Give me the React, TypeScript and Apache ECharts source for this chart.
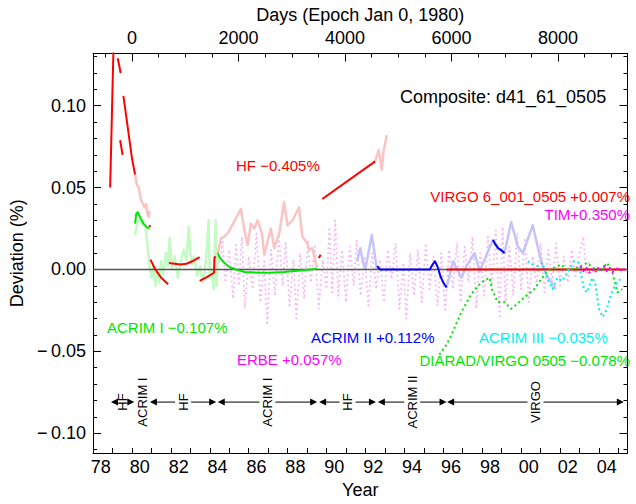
import React, { useEffect, useRef } from 'react';
import * as echarts from 'echarts';

const FONT = '"Liberation Sans", Arial, Helvetica, sans-serif';
const X_MIN = 1978.0;
const X_MAX = 2005.47;
const EPOCH_YEAR = 1980.0;
const DAYS_PER_YEAR = 365.25;
const Y_MIN = -0.1121;
const Y_MAX = 0.1319;

// tick positions / labels
const yearTicks = [1979, 1980, 1981, 1982, 1983, 1984, 1985, 1986, 1987, 1988, 1989, 1990, 1991, 1992, 1993, 1994, 1995, 1996, 1997, 1998, 1999, 2000, 2001, 2002, 2003, 2004, 2005];
const yearLabels = [1978, 1980, 1982, 1984, 1986, 1988, 1990, 1992, 1994, 1996, 1998, 2000, 2002, 2004];
const dayMajor = [0, 2000, 4000, 6000, 8000];
const dayMinor = [-500, 500, 1000, 1500, 2500, 3000, 3500, 4500, 5000, 5500, 6500, 7000, 7500, 8500, 9000];
const devMajor = [-0.1, -0.05, 0, 0.05, 0.1];
const devMinor = [-0.11, -0.09, -0.08, -0.07, -0.06, -0.04, -0.03, -0.02, -0.01, 0.01, 0.02, 0.03, 0.04, 0.06, 0.07, 0.08, 0.09, 0.11, 0.12, 0.13];

// zero reference
const zeroLine = [[1978.0, 0], [2005.47, 0]];

// HF (red, composite pieces)
const hfRedA = [[1978.88, 0.05], [1978.96, 0.09], [1979.05, 0.135]];
const hfRedB = [[1979.27, 0.129], [1979.42, 0.12]];
const hfRedC = [[1979.39, 0.079], [1979.52, 0.07]];
const hfRedD = [[1979.56, 0.106], [1979.7, 0.094], [1979.85, 0.081], [1980.0, 0.068], [1980.16, 0.058]];
const hfRedE = [[1980.89, 0.027], [1980.95, 0.026]];
const hfRedF = [[1980.95, 0.006], [1981.2, 0.0], [1981.5, -0.005], [1981.86, -0.009]];
const hfRedG = [[1981.9, 0.004], [1982.2, 0.0035], [1982.5, 0.003], [1982.8, 0.0035], [1983.1, 0.005], [1983.48, 0.0075]];
const hfRedH = [[1983.48, -0.007], [1983.8, -0.005], [1984.22, -0.002], [1984.24, 0.007], [1984.3, 0.008]];
const hfRedI = [[1989.6, 0.007], [1989.7, 0.009]];
const hfRedJ = [[1989.78, 0.043], [1992.5, 0.066]];

// HF raw (light red)
const hfRawA = [[1980.16, 0.058], [1980.25, 0.052], [1980.35, 0.05], [1980.45, 0.043], [1980.55, 0.04], [1980.65, 0.038], [1980.72, 0.04], [1980.8, 0.034], [1980.87, 0.032], [1980.9, 0.036]];
const hfRawB = [[1984.41, 0.01], [1984.58, 0.019], [1984.75, 0.02], [1984.92, 0.022], [1985.2, 0.028], [1985.6, 0.037], [1985.78, 0.024], [1985.95, 0.015], [1986.11, 0.028], [1986.29, 0.025], [1986.46, 0.03], [1986.68, 0.022], [1986.8, 0.009], [1986.97, 0.017], [1987.14, 0.025], [1987.31, 0.013], [1987.57, 0.022], [1987.82, 0.041], [1987.99, 0.027], [1988.25, 0.03], [1988.59, 0.038], [1988.76, 0.02], [1989.01, 0.016], [1989.1, 0.012], [1989.27, 0.013], [1989.44, 0.004], [1989.52, 0.001]];
const hfRawC = [[1992.5, 0.066], [1992.68, 0.073], [1992.84, 0.061], [1992.93, 0.072], [1993.1, 0.082]];

// ACRIM I raw (light green)
const acrim1Raw = [[1980.16, 0.021], [1980.3, 0.03], [1980.5, 0.028], [1980.7, 0.026], [1980.9, 0.002], [1981.0, -0.005], [1981.1, 0.002], [1981.2, -0.01], [1981.3, 0.0], [1981.4, -0.008], [1981.5, 0.005], [1981.6, -0.003], [1981.75, 0.01], [1981.85, 0.002], [1981.94, 0.019], [1982.05, 0.0], [1982.2, 0.008], [1982.35, -0.005], [1982.5, 0.004], [1982.65, 0.012], [1982.8, 0.006], [1982.92, 0.026], [1983.0, 0.01], [1983.1, 0.003], [1983.2, 0.008], [1983.35, -0.004], [1983.5, 0.002], [1983.65, -0.008], [1983.8, 0.005], [1983.94, 0.03], [1984.0, -0.005], [1984.1, 0.0], [1984.2, -0.012], [1984.3, 0.03], [1984.35, -0.01], [1984.41, 0.008]];

// ACRIM I (green)
const acrim1A = [[1980.16, 0.028], [1980.22, 0.034], [1980.3, 0.035], [1980.45, 0.031], [1980.6, 0.028], [1980.75, 0.026], [1980.9, 0.025]];
const acrim1B = [[1984.41, 0.01], [1984.5, 0.0075], [1984.7, 0.0045], [1985.0, 0.0015], [1985.35, 0.0], [1985.8, -0.0015], [1986.5, -0.002], [1987.05, -0.002], [1987.8, -0.0015], [1988.5, -0.0008], [1989.0, -0.0002], [1989.52, 0.0004]];

// ERBE (light magenta, dotted)
const erbe = [[1984.5, 0.004], [1984.65, 0.018], [1984.8, -0.008], [1985.0, 0.012], [1985.2, -0.018], [1985.35, 0.015], [1985.5, -0.01], [1985.65, 0.02], [1985.8, -0.024], [1986.0, 0.008], [1986.2, -0.012], [1986.4, 0.022], [1986.6, -0.02], [1986.8, 0.005], [1986.95, -0.034], [1987.15, 0.012], [1987.35, -0.016], [1987.55, 0.02], [1987.75, -0.01], [1987.9, 0.016], [1988.1, -0.022], [1988.3, 0.006], [1988.45, -0.03], [1988.65, 0.01], [1988.85, -0.018], [1989.05, 0.018], [1989.2, -0.008], [1989.4, 0.014], [1989.6, -0.024], [1989.8, 0.006], [1990.0, -0.012], [1990.15, 0.026], [1990.3, -0.014], [1990.45, 0.03], [1990.6, -0.016], [1990.8, 0.012], [1991.0, -0.02], [1991.2, 0.014], [1991.4, -0.01], [1991.55, 0.018], [1991.75, -0.016], [1991.95, 0.008], [1992.15, -0.022], [1992.35, 0.01], [1992.55, -0.012], [1992.75, 0.006], [1992.95, -0.02], [1993.15, 0.012], [1993.35, -0.006], [1993.55, 0.016], [1993.75, -0.024], [1993.95, 0.004], [1994.1, -0.03], [1994.3, 0.01], [1994.5, -0.016], [1994.7, 0.012], [1994.9, -0.02], [1995.1, 0.016], [1995.3, -0.012], [1995.5, 0.008], [1995.7, -0.022], [1995.9, 0.01], [1996.1, -0.026], [1996.3, 0.012], [1996.5, -0.012], [1996.7, 0.016], [1996.9, -0.02], [1997.1, 0.014], [1997.3, -0.008], [1997.5, 0.02], [1997.7, -0.024], [1997.9, 0.01], [1998.1, -0.016], [1998.3, 0.02], [1998.5, -0.01], [1998.7, 0.024], [1998.9, -0.03], [1999.05, 0.026], [1999.2, -0.02], [1999.4, 0.014], [1999.6, -0.016], [1999.8, 0.022], [2000.0, -0.012], [2000.2, 0.018], [2000.4, -0.02], [2000.6, 0.008], [2000.8, -0.01], [2001.0, 0.016], [2001.2, -0.014], [2001.4, 0.012], [2001.6, -0.008], [2001.8, 0.016], [2002.0, -0.01], [2002.2, 0.008], [2002.4, -0.008], [2002.6, 0.012], [2002.8, -0.004], [2003.0, 0.01], [2003.2, 0.02], [2003.35, -0.002], [2003.55, 0.006]];

// ACRIM II raw (light blue)
const acrim2RawA = [[1991.57, 0.005], [1991.74, 0.013], [1991.88, 0.004], [1991.99, 0.0], [1992.15, 0.01], [1992.33, 0.021], [1992.47, 0.01], [1992.59, 0.0]];
const acrim2RawB = [[1996.17, -0.011], [1996.51, 0.005], [1996.76, -0.001], [1996.93, -0.005], [1997.19, 0.002], [1997.61, 0.01], [1997.87, -0.001], [1998.12, 0.006], [1998.55, 0.018], [1998.82, 0.013], [1999.15, 0.01], [1999.49, 0.029], [1999.83, 0.014], [2000.09, 0.01], [2000.6, 0.027], [2000.85, 0.014], [2001.11, 0.002], [2001.44, -0.006], [2001.79, -0.012]];

// ACRIM II (blue)
const acrim2A = [[1992.6, 0.002], [1992.75, 0.0], [1993.5, 0.0], [1994.5, 0.0], [1995.31, 0.0], [1995.45, 0.003], [1995.57, 0.005], [1995.7, 0.002], [1995.85, -0.004], [1996.0, -0.008], [1996.17, -0.011]];
const acrim2B = [[1998.55, 0.018], [1998.7, 0.015], [1998.82, 0.013], [1998.95, 0.012], [1999.15, 0.01]];

// VIRGO (red)
const virgo = [[1996.17, 0], [2005.37, 0]];

// DIARAD/VIRGO (green, dotted)
const diarad = [[1995.8, -0.052], [1996.17, -0.046], [1996.42, -0.04], [1996.93, -0.026], [1997.44, -0.015], [1997.95, -0.008], [1998.38, -0.005], [1998.5, -0.012], [1998.8, -0.02], [1999.15, -0.02], [1999.49, -0.024], [1999.7, -0.022], [2000.17, -0.017], [2000.68, -0.012], [2001.02, -0.006], [2001.36, -0.001], [2001.7, 0.001], [2002.04, 0.003], [2002.38, 0.0], [2002.9, 0.001], [2003.4, 0.004], [2003.7, 0.001], [2004.1, -0.001], [2004.42, 0.004], [2004.7, -0.002], [2004.95, -0.014], [2005.2, -0.012]];

// ACRIM III (cyan, dotted)
const acrim3 = [[2000.34, 0.005], [2000.6, 0.003], [2000.85, 0.002], [2001.1, 0.004], [2001.36, -0.006], [2001.62, -0.012], [2001.87, -0.005], [2002.1, -0.007], [2002.38, -0.002], [2002.72, 0.005], [2002.97, 0.004], [2003.23, -0.012], [2003.4, -0.014], [2003.65, -0.005], [2003.82, -0.009], [2004.0, -0.024], [2004.2, -0.029], [2004.42, -0.024], [2004.6, -0.016], [2004.85, -0.009], [2005.1, -0.006]];

// TIM (magenta, dotted)
const tim = [[2003.06, 0.002], [2003.2, -0.001], [2003.35, 0.001], [2003.5, -0.002], [2003.65, 0.0], [2003.8, -0.002], [2003.95, 0.001], [2004.1, -0.001], [2004.25, 0.002], [2004.4, -0.001], [2004.55, 0.001], [2004.7, -0.0015], [2004.85, 0.0], [2005.0, 0.001], [2005.2, -0.001], [2005.35, 0.0]];

// instrument periods (arrows at the bottom)
const ARROW_Y = -0.081;
const periodStart = [1978.92, 1980.12, 1980.92, 1984.41, 1989.62, 1992.64, 1996.2];
const periodEnd = [1980.12, 1980.92, 1984.33, 1989.52, 1992.54, 1996.17, 2005.28];
const periodName = ['HF', 'ACRIM I', 'HF', 'ACRIM I', 'HF', 'ACRIM II', 'VIRGO'];

const fmtDev = (v: number) => {
  if (Math.abs(v) < 1e-9) return '0.00';
  return (v < 0 ? '\u2212\u2009' : '') + Math.abs(v).toFixed(2);
};

function line(data: number[][], color: string, width: number, z: number, dash?: any) {
  return {
    type: 'line',
    data,
    xAxisIndex: 0,
    yAxisIndex: 0,
    showSymbol: false,
    symbol: 'none',
    silent: true,
    clip: true,
    z,
    lineStyle: { color, width, type: dash || 'solid', cap: 'butt', join: 'round' },
  };
}

export default function App() {
  const ref = useRef<HTMLDivElement>(null);
  useEffect(() => {
    if (!ref.current) return;
    const chart = echarts.init(ref.current, undefined, { renderer: 'svg' });
    const RED = '#ff0000';
    const PINK = '#fbc4c4';
    const LGREEN = '#c4fac4';
    const GREEN = '#00e600';
    const BLUE = '#0000ff';
    const LBLUE = '#c4c4fa';
    const CYAN = '#00f0f0';
    const MAGENTA = '#ff00ff';
    const LMAGENTA = '#f5b8f5';
    const dots = [2, 3];
    const AX_FONT = 18;

    const axisCommon = {
      type: 'value',
      gridIndex: 0,
      splitLine: { show: false },
    };

    const option: any = {
      animation: false,
      backgroundColor: '#ffffff',
      grid: { left: 89.5, right: 8.5, top: 53.5, bottom: 44, containLabel: false },
      xAxis: [
        {
          ...axisCommon,
          position: 'bottom',
          min: X_MIN,
          max: X_MAX,
          axisLine: { show: true, onZero: false, lineStyle: { color: '#000', width: 1 } },
          axisTick: { show: true, inside: true, length: 5, customValues: yearTicks, lineStyle: { color: '#000', width: 1 } },
          axisLabel: {
            show: true,
            customValues: yearLabels.map((y) => y + 0.4),
            formatter: (v: number) => String(Math.floor(v) % 100).padStart(2, '0'),
            fontSize: AX_FONT,
            fontFamily: FONT,
            color: '#000',
            margin: 5,
          },
          name: 'Year',
          nameLocation: 'middle',
          nameGap: 28,
          nameTextStyle: { fontSize: AX_FONT, fontFamily: FONT, color: '#000', verticalAlign: 'top' },
        },
        {
          ...axisCommon,
          position: 'top',
          min: (X_MIN - EPOCH_YEAR) * DAYS_PER_YEAR,
          max: (X_MAX - EPOCH_YEAR) * DAYS_PER_YEAR,
          axisLine: { show: true, onZero: false, lineStyle: { color: '#000', width: 1 } },
          axisTick: { show: true, inside: true, length: 8, customValues: dayMajor, lineStyle: { color: '#000', width: 1 } },
          axisLabel: {
            show: true,
            customValues: dayMajor,
            formatter: (v: number) => String(Math.round(v)),
            fontSize: AX_FONT,
            fontFamily: FONT,
            color: '#000',
            margin: 7,
          },
          name: 'Days (Epoch Jan 0, 1980)',
          nameLocation: 'middle',
          nameGap: 29,
          nameTextStyle: { fontSize: AX_FONT, fontFamily: FONT, color: '#000', verticalAlign: 'bottom' },
        },
        {
          ...axisCommon,
          position: 'top',
          min: (X_MIN - EPOCH_YEAR) * DAYS_PER_YEAR,
          max: (X_MAX - EPOCH_YEAR) * DAYS_PER_YEAR,
          axisLine: { show: false, onZero: false },
          axisTick: { show: true, inside: true, length: 4, customValues: dayMinor, lineStyle: { color: '#000', width: 1 } },
          axisLabel: { show: false },
        },
      ],
      yAxis: [
        {
          ...axisCommon,
          position: 'left',
          min: Y_MIN,
          max: Y_MAX,
          axisLine: { show: true, onZero: false, lineStyle: { color: '#000', width: 1 } },
          axisTick: { show: true, inside: true, length: 8, customValues: devMajor, lineStyle: { color: '#000', width: 1 } },
          axisLabel: {
            show: true,
            customValues: devMajor,
            formatter: fmtDev,
            fontSize: AX_FONT,
            fontFamily: FONT,
            color: '#000',
            margin: 7,
          },
          name: 'Deviation (%)',
          nameLocation: 'middle',
          nameGap: 62,
          nameTextStyle: { fontSize: AX_FONT, fontFamily: FONT, color: '#000' },
        },
        {
          ...axisCommon,
          position: 'left',
          min: Y_MIN,
          max: Y_MAX,
          axisLine: { show: false, onZero: false },
          axisTick: { show: true, inside: true, length: 4, customValues: devMinor, lineStyle: { color: '#000', width: 1 } },
          axisLabel: { show: false },
        },
        {
          ...axisCommon,
          position: 'right',
          min: Y_MIN,
          max: Y_MAX,
          axisLine: { show: true, onZero: false, lineStyle: { color: '#000', width: 1 } },
          axisTick: { show: true, inside: true, length: 8, customValues: devMajor, lineStyle: { color: '#000', width: 1 } },
          axisLabel: { show: false },
        },
        {
          ...axisCommon,
          position: 'right',
          min: Y_MIN,
          max: Y_MAX,
          axisLine: { show: false, onZero: false },
          axisTick: { show: true, inside: true, length: 4, customValues: devMinor, lineStyle: { color: '#000', width: 1 } },
          axisLabel: { show: false },
        },
      ],
      series: [
        line(erbe, LMAGENTA, 1.8, 1, [1.8, 3]),
        line(acrim1Raw, LGREEN, 2.5, 2),
        line(hfRawA, PINK, 2.5, 2),
        line(hfRawB, PINK, 2.5, 2),
        line(hfRawC, PINK, 2.5, 2),
        line(acrim2RawA, LBLUE, 2.5, 2),
        line(acrim2RawB, LBLUE, 2.5, 2),
        line(zeroLine, '#555555', 1.5, 3),
        line(acrim1A, GREEN, 2, 4),
        line(acrim1B, GREEN, 2, 4),
        line(hfRedA, RED, 2, 4),
        line(hfRedB, RED, 2, 4),
        line(hfRedC, RED, 2, 4),
        line(hfRedD, RED, 2, 4),
        line(hfRedE, RED, 2, 4),
        line(hfRedF, RED, 2, 4),
        line(hfRedG, RED, 2, 4),
        line(hfRedH, RED, 2, 4),
        line(hfRedI, RED, 2, 4),
        line(hfRedJ, RED, 2, 4),
        line(acrim2A, BLUE, 2, 4),
        line(acrim2B, BLUE, 2, 4),
        line(virgo, RED, 2, 4),
        line(diarad, GREEN, 2, 5, dots),
        line(acrim3, CYAN, 2, 5, dots),
        line(tim, MAGENTA, 2, 6, dots),
        {
          type: 'custom',
          xAxisIndex: 0,
          yAxisIndex: 0,
          silent: true,
          clip: false,
          z: 7,
          data: periodStart.map((s, i) => [s, periodEnd[i], ARROW_Y]),
          renderItem: (params: any, api: any) => {
            const i = params.dataIndex;
            const a = api.coord([api.value(0), api.value(2)]);
            const b = api.coord([api.value(1), api.value(2)]);
            const y = a[1];
            const mid = (a[0] + b[0]) / 2;
            const len = b[0] - a[0];
            const AH = 7;
            const AW = 3.5;
            const GAP = 8;
            const children: any[] = [
              {
                type: 'text',
                x: mid,
                y,
                rotation: Math.PI / 2,
                style: { text: periodName[i], align: 'center', verticalAlign: 'middle', font: '13px ' + FONT, fill: '#000' },
              },
            ];
            if (len > 20) {
              if (mid - GAP > a[0] + AH) {
                children.push({ type: 'line', shape: { x1: a[0] + AH - 1, y1: y, x2: mid - GAP, y2: y }, style: { stroke: '#000', lineWidth: 1 } });
                children.push({ type: 'line', shape: { x1: mid + GAP, y1: y, x2: b[0] - AH + 1, y2: y }, style: { stroke: '#000', lineWidth: 1 } });
              }
              children.push({ type: 'polygon', shape: { points: [[a[0], y], [a[0] + AH, y - AW], [a[0] + AH, y + AW]] }, style: { fill: '#000' } });
              children.push({ type: 'polygon', shape: { points: [[b[0], y], [b[0] - AH, y - AW], [b[0] - AH, y + AW]] }, style: { fill: '#000' } });
            }
            return { type: 'group', children };
          },
        },
      ],
      graphic: [
        { type: 'text', x: 400, y: 97, style: { text: 'Composite: d41_61_0505', fill: '#000', font: '18px ' + FONT, align: 'left', verticalAlign: 'middle' } },
        { type: 'text', x: 236, y: 165, style: { text: 'HF \u22120.405%', fill: RED, font: '15px ' + FONT, align: 'left', verticalAlign: 'middle' } },
        { type: 'text', x: 630, y: 196, style: { text: 'VIRGO 6_001_0505 +0.007%', fill: RED, font: '15px ' + FONT, align: 'right', verticalAlign: 'middle' } },
        { type: 'text', x: 630, y: 214, style: { text: 'TIM+0.350%', fill: MAGENTA, font: '15px ' + FONT, align: 'right', verticalAlign: 'middle' } },
        { type: 'text', x: 107, y: 327, style: { text: 'ACRIM I \u22120.107%', fill: GREEN, font: '15px ' + FONT, align: 'left', verticalAlign: 'middle' } },
        { type: 'text', x: 311, y: 337, style: { text: 'ACRIM II +0.112%', fill: BLUE, font: '15px ' + FONT, align: 'left', verticalAlign: 'middle' } },
        { type: 'text', x: 479, y: 337, style: { text: 'ACRIM III \u22120.035%', fill: CYAN, font: '15px ' + FONT, align: 'left', verticalAlign: 'middle' } },
        { type: 'text', x: 237, y: 359, style: { text: 'ERBE +0.057%', fill: MAGENTA, font: '15px ' + FONT, align: 'left', verticalAlign: 'middle' } },
        { type: 'text', x: 630, y: 360, style: { text: 'DIARAD/VIRGO 0505 \u22120.078%', fill: GREEN, font: '15px ' + FONT, align: 'right', verticalAlign: 'middle' } },
      ],
    };
    chart.setOption(option);
    return () => chart.dispose();
  }, []);
  return <div ref={ref} style={{ width: 636, height: 504, position: 'absolute', left: 0, top: 0 }} />;
}
